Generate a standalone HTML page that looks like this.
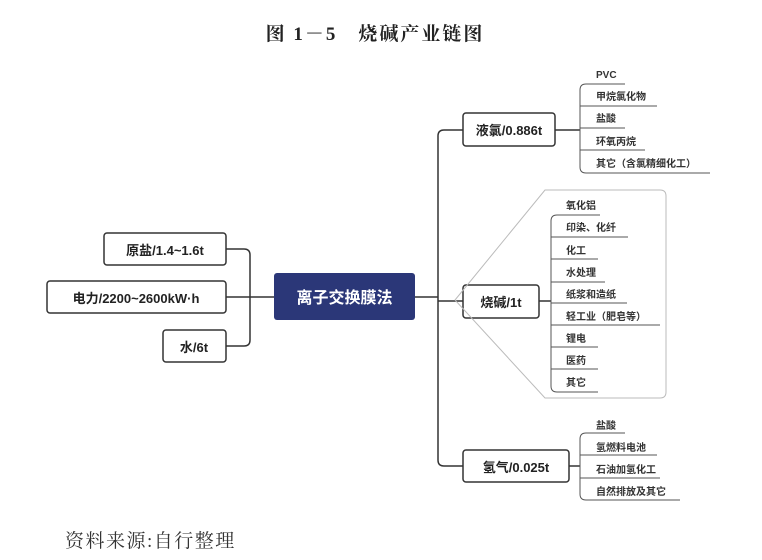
<!DOCTYPE html>
<html><head><meta charset="utf-8"><style>
body{margin:0;background:#fff;}
svg{display:block;}
text{font-family:"Liberation Sans","Noto Sans CJK SC",sans-serif;}
.t{font-family:"Liberation Serif","Noto Serif CJK SC",serif;}
.s{font-size:10px;fill:#333;font-weight:bold;}
.b{font-size:13px;fill:#222;font-weight:bold;}
</style></head><body>
<svg width="762" height="560" viewBox="0 0 762 560" xmlns="http://www.w3.org/2000/svg">
<rect width="762" height="560" fill="#fff"/>
<text x="375" y="40" class="t" font-size="19" font-weight="bold" text-anchor="middle" fill="#222" letter-spacing="2">图 1－5　烧碱产业链图</text>
<text x="65" y="547" class="t" font-size="19" fill="#333" letter-spacing="1.5">资料来源:自行整理</text>

<g fill="none" stroke="#333" stroke-width="1.5">
<path d="M226 249 H244 q6 0 6 6 V340 q0 6 -6 6 H226"/>
<path d="M226 297 H274"/>
<path d="M415 297 H438"/>
<path d="M463 130 H444 q-6 0 -6 6 V460 q0 6 6 6 H463"/>
<path d="M438 301 H463"/>
<path d="M555 130 H580"/>
<path d="M539 301 H551"/>
<path d="M569 466 H580"/>
</g>
<g fill="#fff" stroke="#333" stroke-width="1.5">
<rect x="104" y="233" width="122" height="32" rx="3"/>
<rect x="47" y="281" width="179" height="32" rx="3"/>
<rect x="163" y="330" width="63" height="32" rx="3"/>
<rect x="463" y="113" width="92" height="33" rx="3"/>
<rect x="463" y="285" width="76" height="33" rx="3"/>
<rect x="463" y="450" width="106" height="32" rx="3"/>
</g>
<rect x="274" y="273" width="141" height="47" rx="3" fill="#2b3778"/>
<text x="344.5" y="303" font-size="16" font-weight="bold" fill="#fff" text-anchor="middle">离子交换膜法</text>
<text x="165" y="255" class="b" text-anchor="middle">原盐/1.4~1.6t</text>
<text x="136" y="303" class="b" text-anchor="middle">电力/2200~2600kW·h</text>
<text x="194" y="352" class="b" text-anchor="middle">水/6t</text>
<text x="509" y="135" class="b" text-anchor="middle">液氯/0.886t</text>
<text x="501" y="307" class="b" text-anchor="middle">烧碱/1t</text>
<text x="516" y="472" class="b" text-anchor="middle">氢气/0.025t</text>

<path d="M545 190 H660 q6 0 6 6 V392 q0 6 -6 6 H545 L455 300 Z" fill="none" stroke="#bbb" stroke-width="1"/>

<g fill="none" stroke="#555" stroke-width="1">
<path d="M625 84 H586 q-6 0 -6 6 V167 q0 6 6 6 H710"/>
<path d="M580 106 H657 M580 128 H625 M580 150 H645"/>
<path d="M600 215 H557 q-6 0 -6 6 V386 q0 6 6 6 H598"/>
<path d="M551 237 H628 M551 259 H598 M551 282 H605 M551 303 H627 M551 325 H660 M551 347 H598 M551 369 H598"/>
<path d="M625 433 H586 q-6 0 -6 6 V494 q0 6 6 6 H680"/>
<path d="M580 455 H657 M580 478 H660"/>
</g>
<g class="s">
<text x="596" y="78" class="s">PVC</text>
<text x="596" y="100" class="s">甲烷氯化物</text>
<text x="596" y="122" class="s">盐酸</text>
<text x="596" y="145" class="s">环氧丙烷</text>
<text x="596" y="167" class="s">其它（含氯精细化工）</text>
<text x="566" y="209" class="s">氧化铝</text>
<text x="566" y="231" class="s">印染、化纤</text>
<text x="566" y="254" class="s">化工</text>
<text x="566" y="276" class="s">水处理</text>
<text x="566" y="298" class="s">纸浆和造纸</text>
<text x="566" y="320" class="s">轻工业（肥皂等）</text>
<text x="566" y="342" class="s">锂电</text>
<text x="566" y="364" class="s">医药</text>
<text x="566" y="386" class="s">其它</text>
<text x="596" y="429" class="s">盐酸</text>
<text x="596" y="451" class="s">氢燃料电池</text>
<text x="596" y="473" class="s">石油加氢化工</text>
<text x="596" y="495" class="s">自然排放及其它</text>
</g>
</svg>
</body></html>
